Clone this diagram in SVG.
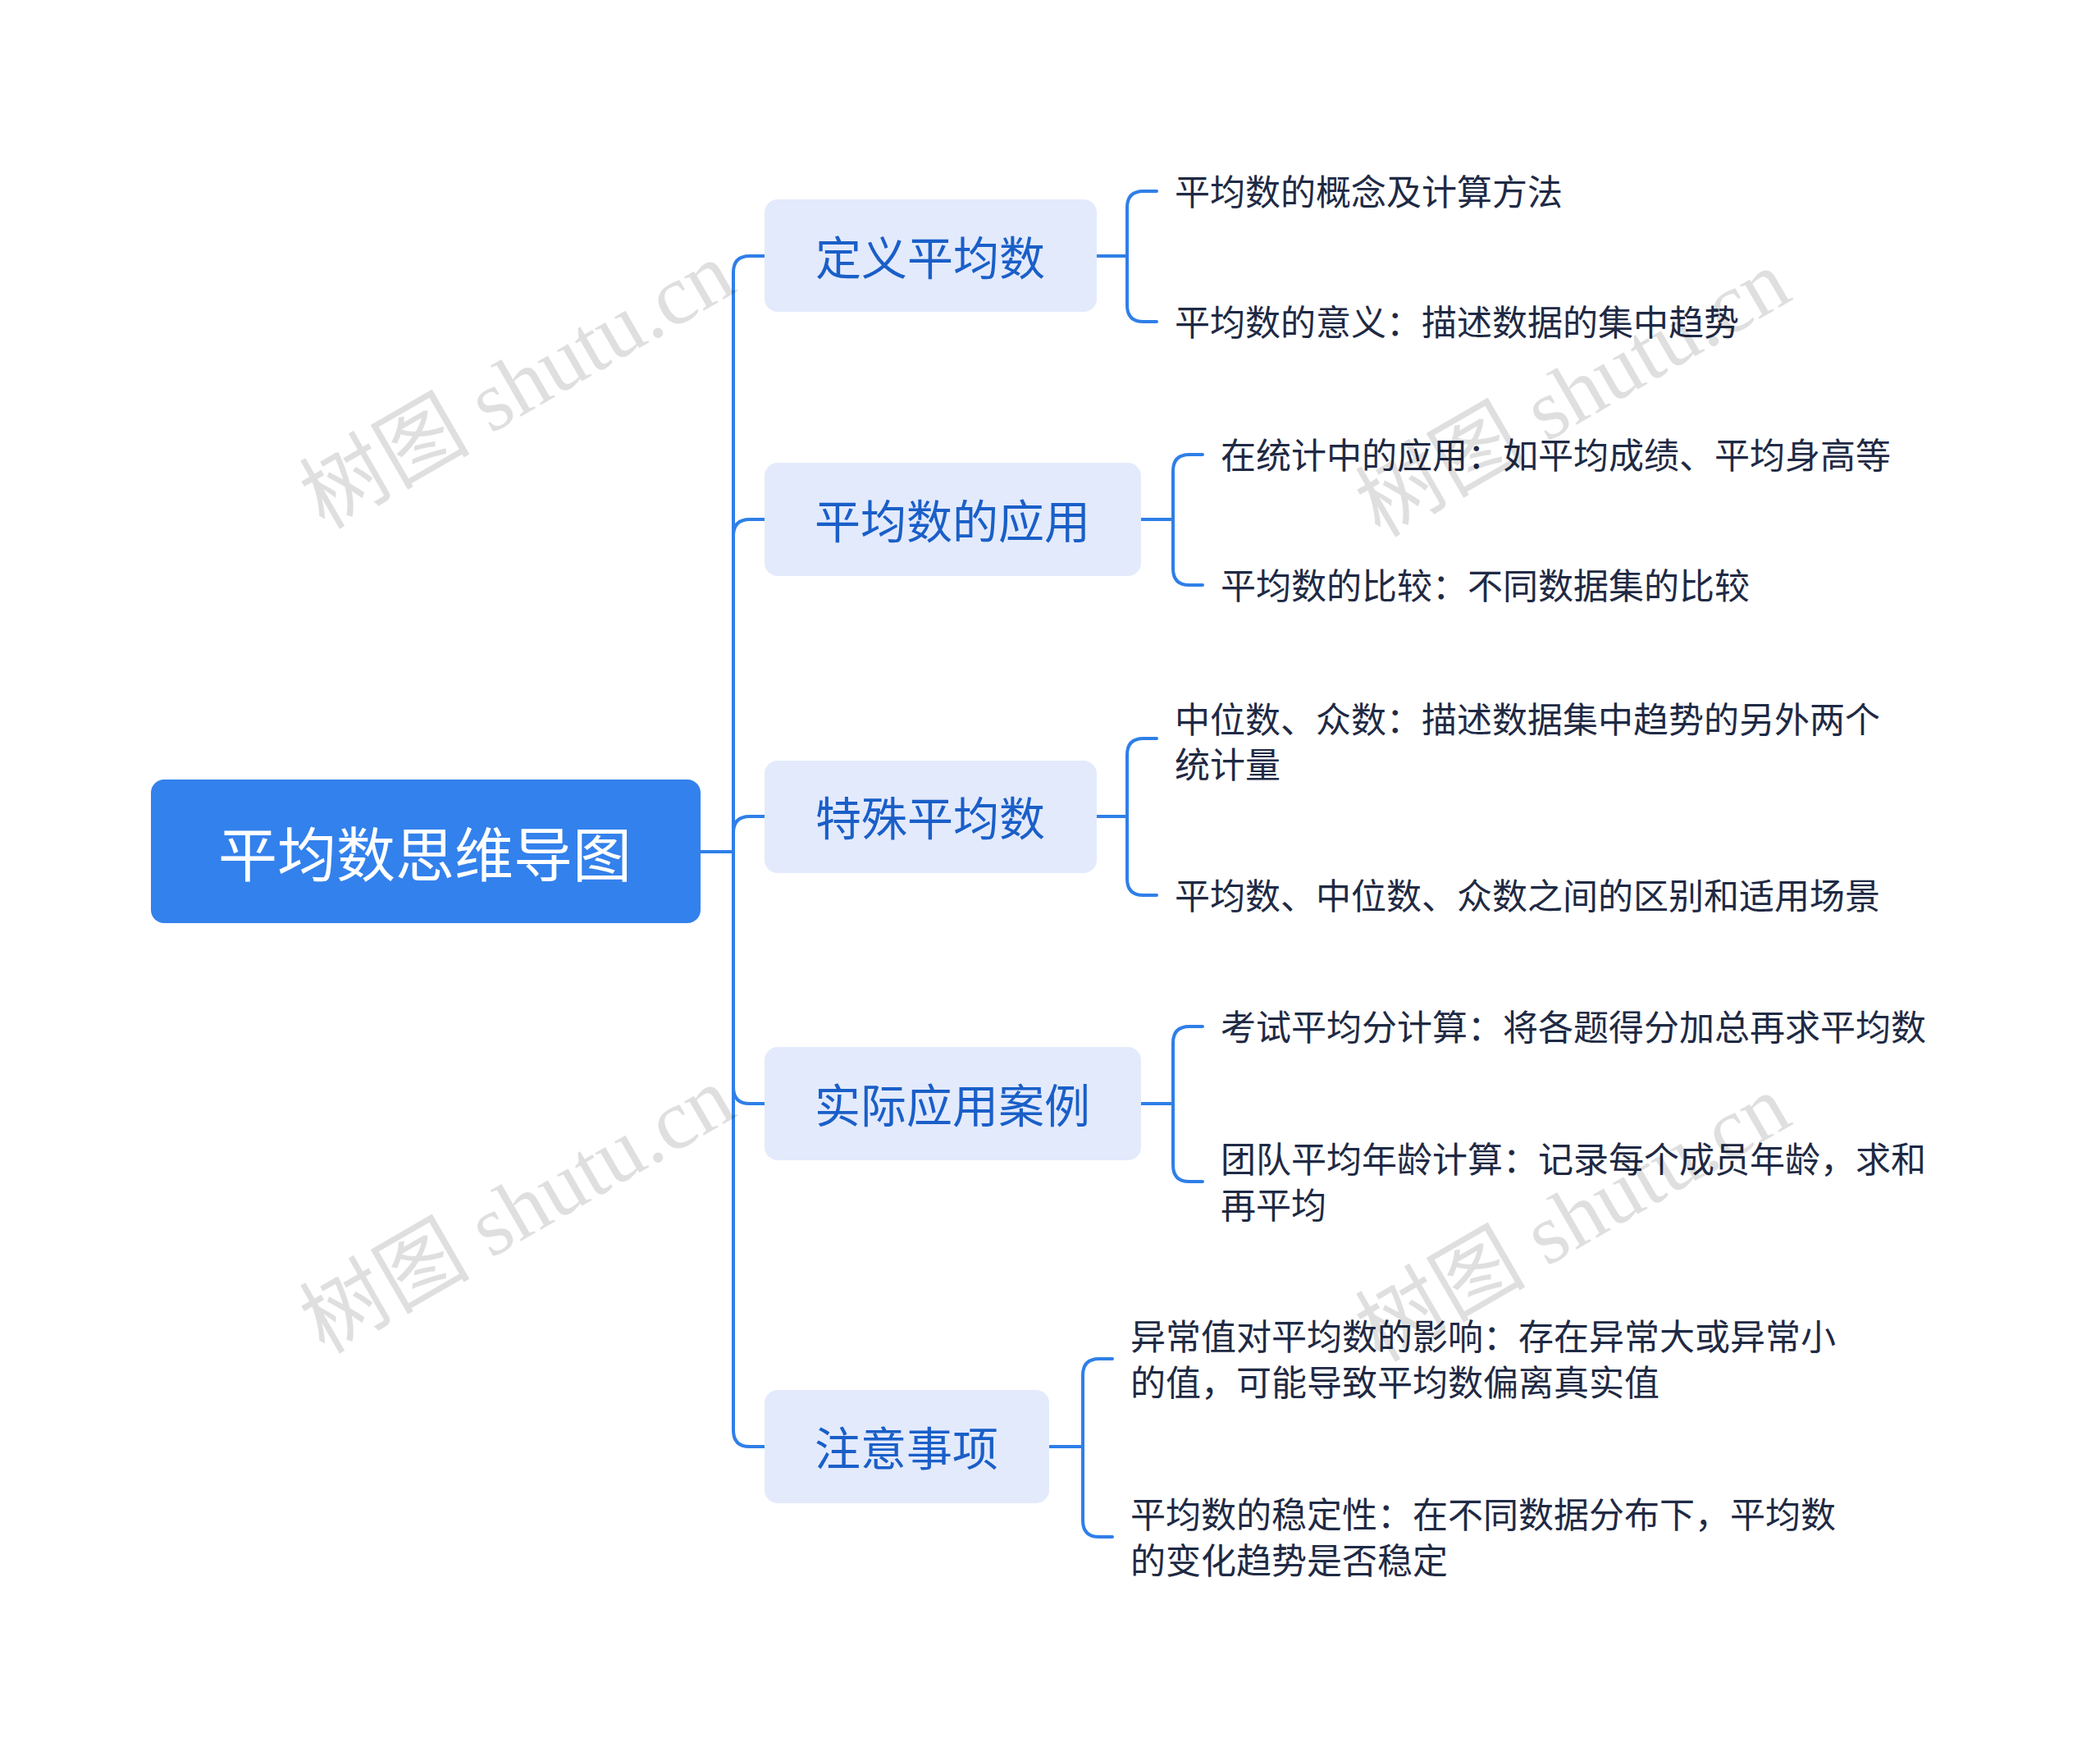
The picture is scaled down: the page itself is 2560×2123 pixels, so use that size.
<svg xmlns="http://www.w3.org/2000/svg" width="2560" height="2123" viewBox="0 0 2560 2123">
<style>
.ln{fill:none;stroke:#2f7fe8;stroke-width:4;stroke-linecap:round}
.br{fill:#e3eafc}
.bt{font-family:"Noto Sans CJK SC","Noto Sans",sans-serif;font-size:56px;fill:#1a5fc8}
.lt{font-family:"Noto Sans CJK SC","Noto Sans",sans-serif;font-size:43px;fill:#1f2a44}
.wm{font-family:"Liberation Serif","Noto Sans CJK SC",serif;font-size:104px;fill:#000;opacity:0.12}
</style>
<rect width="2560" height="2123" fill="#fff"/>
<g id="connectors">
<path class="ln" d="M854 1038 H894 V332 Q894 312 914 312 H932"/>
<path class="ln" d="M894 1038 V653 Q894 633 914 633 H932"/>
<path class="ln" d="M894 1038 V1015 Q894 995 914 995 H932"/>
<path class="ln" d="M894 1038 V1325 Q894 1345 914 1345 H932"/>
<path class="ln" d="M894 1038 V1743 Q894 1763 914 1763 H932"/>
<path class="ln" d="M1337 312 H1374 M1374 312 V253 Q1374 233 1394 233 H1410 M1374 312 V372 Q1374 392 1394 392 H1410"/>
<path class="ln" d="M1391 633 H1430 M1430 633 V574 Q1430 554 1450 554 H1466 M1430 633 V693 Q1430 713 1450 713 H1466"/>
<path class="ln" d="M1337 995 H1374 M1374 995 V920 Q1374 900 1394 900 H1410 M1374 995 V1071 Q1374 1091 1394 1091 H1410"/>
<path class="ln" d="M1391 1345 H1430 M1430 1345 V1271 Q1430 1251 1450 1251 H1466 M1430 1345 V1420 Q1430 1440 1450 1440 H1466"/>
<path class="ln" d="M1279 1763 H1320 M1320 1763 V1676 Q1320 1656 1340 1656 H1356 M1320 1763 V1853 Q1320 1873 1340 1873 H1356"/>
</g>
<g id="root"><rect x="184" y="950" width="670" height="175" rx="16" fill="#3381ec"/><text x="518" y="1036" text-anchor="middle" dominant-baseline="central" font-family="Noto Sans CJK SC,sans-serif" font-size="72" fill="#fff">平均数思维导图</text></g>
<g id="n1"><rect class="br" x="932" y="243" width="405" height="137" rx="16"/><text class="bt" x="1134" y="310" text-anchor="middle" dominant-baseline="central">定义平均数</text></g>
<g id="n2"><rect class="br" x="932" y="564" width="459" height="138" rx="16"/><text class="bt" x="1161" y="631" text-anchor="middle" dominant-baseline="central">平均数的应用</text></g>
<g id="n3"><rect class="br" x="932" y="927" width="405" height="137" rx="16"/><text class="bt" x="1134" y="993" text-anchor="middle" dominant-baseline="central">特殊平均数</text></g>
<g id="n4"><rect class="br" x="932" y="1276" width="459" height="138" rx="16"/><text class="bt" x="1161" y="1343" text-anchor="middle" dominant-baseline="central">实际应用案例</text></g>
<g id="n5"><rect class="br" x="932" y="1694" width="347" height="138" rx="16"/><text class="bt" x="1105" y="1761" text-anchor="middle" dominant-baseline="central">注意事项</text></g>
<g id="l1"><text class="lt" x="1432" y="231" dominant-baseline="central">平均数的概念及计算方法</text></g>
<g id="l2"><text class="lt" x="1432" y="390" dominant-baseline="central">平均数的意义：描述数据的集中趋势</text></g>
<g id="l3"><text class="lt" x="1488" y="552" dominant-baseline="central">在统计中的应用：如平均成绩、平均身高等</text></g>
<g id="l4"><text class="lt" x="1488" y="711" dominant-baseline="central">平均数的比较：不同数据集的比较</text></g>
<g id="l5"><text class="lt" x="1432" y="874" dominant-baseline="central">中位数、众数：描述数据集中趋势的另外两个</text><text class="lt" x="1432" y="929" dominant-baseline="central">统计量</text></g>
<g id="l6"><text class="lt" x="1432" y="1089" dominant-baseline="central">平均数、中位数、众数之间的区别和适用场景</text></g>
<g id="l7"><text class="lt" x="1488" y="1249" dominant-baseline="central">考试平均分计算：将各题得分加总再求平均数</text></g>
<g id="l8"><text class="lt" x="1488" y="1410" dominant-baseline="central">团队平均年龄计算：记录每个成员年龄，求和</text><text class="lt" x="1488" y="1466" dominant-baseline="central">再平均</text></g>
<g id="l9"><text class="lt" x="1378" y="1626" dominant-baseline="central">异常值对平均数的影响：存在异常大或异常小</text><text class="lt" x="1378" y="1682" dominant-baseline="central">的值，可能导致平均数偏离真实值</text></g>
<g id="l10"><text class="lt" x="1378" y="1843" dominant-baseline="central">平均数的稳定性：在不同数据分布下，平均数</text><text class="lt" x="1378" y="1899" dominant-baseline="central">的变化趋势是否稳定</text></g>
<g id="watermarks">
<text class="wm" transform="translate(648,500) rotate(-30)" text-anchor="middle">树图 shutu.cn</text>
<text class="wm" transform="translate(1935,510) rotate(-30)" text-anchor="middle">树图 shutu.cn</text>
<text class="wm" transform="translate(648,1505) rotate(-30)" text-anchor="middle">树图 shutu.cn</text>
<text class="wm" transform="translate(1935,1515) rotate(-30)" text-anchor="middle">树图 shutu.cn</text>
</g>
</svg>
